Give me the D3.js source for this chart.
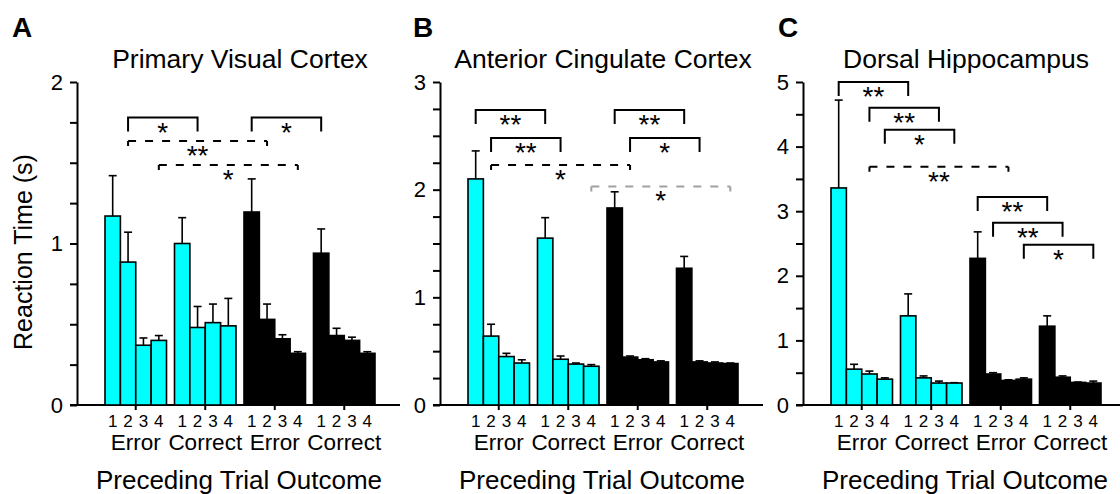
<!DOCTYPE html>
<html>
<head>
<meta charset="utf-8">
<script src="https://cdn.jsdelivr.net/npm/d3@7"></script>
<style>
  body { margin: 0; background: #fff; }
  svg { display: block; font-family: "Liberation Sans", Arial, Helvetica, sans-serif; }
</style>
</head>
<body>
<svg id="svg-canvas" width="1120" height="494"></svg>
<script>
// categories
const outcomes = ['Error', 'Correct', 'Error', 'Correct'];
const trials = [1, 2, 3, 4];
const panelTitles = ['Primary Visual Cortex', 'Anterior Cingulate Cortex', 'Dorsal Hippocampus'];
const panelLetters = ['A', 'B', 'C'];
const yMaxes = [2, 3, 5];
const yMinorSteps = [0.25, 0.25, 0.5];

// mean reaction time (s), one row per outcome group, trials 1-4
const v1Mean = [[1.17, 0.885, 0.37, 0.40], [1.00, 0.48, 0.51, 0.49], [1.195, 0.53, 0.41, 0.32], [0.94, 0.43, 0.40, 0.32]];
const v1Sem  = [[0.25, 0.185, 0.045, 0.03], [0.16, 0.13, 0.115, 0.17], [0.205, 0.095, 0.025, 0.01], [0.15, 0.045, 0.02, 0.01]];
const accMean = [[2.10, 0.64, 0.45, 0.39], [1.55, 0.425, 0.38, 0.36], [1.83, 0.445, 0.42, 0.40], [1.27, 0.40, 0.39, 0.385]];
const accSem  = [[0.26, 0.11, 0.03, 0.03], [0.19, 0.03, 0.01, 0.015], [0.15, 0.01, 0.01, 0.01], [0.11, 0.01, 0.01, 0.005]];
const hpcMean = [[3.36, 0.555, 0.48, 0.40], [1.38, 0.42, 0.34, 0.34], [2.27, 0.48, 0.38, 0.40], [1.22, 0.43, 0.35, 0.34]];
const hpcSem  = [[1.36, 0.075, 0.045, 0.02], [0.34, 0.03, 0.03, 0.005], [0.41, 0.02, 0.01, 0.02], [0.16, 0.02, 0.005, 0.03]];

// significance: [fromGroup, fromTrial, toGroup, toTrial, level (s), label, kind]
const v1Sig = [[0, 1, 1, 1, 1.78, '*', 'solid'], [2, 0, 3, 0, 1.78, '*', 'solid'],
               [0, 1, 2, 1, 1.635, '**', 'dashed'], [0, 3, 2, 3, 1.486, '*', 'dashed']];
const accSig = [[0, 0, 1, 0, 2.74, '**', 'solid'], [0, 1, 1, 1, 2.48, '**', 'solid'],
                [2, 0, 3, 0, 2.74, '**', 'solid'], [2, 1, 3, 1, 2.48, '*', 'solid'],
                [0, 1, 2, 1, 2.23, '*', 'dashed'], [1, 3, 3, 3, 2.03, '*', 'gray']];
const hpcSig = [[0, 0, 1, 0, 5.0, '**', 'solid'], [0, 2, 1, 2, 4.6, '**', 'solid'],
                [0, 3, 1, 3, 4.26, '*', 'solid'], [0, 2, 2, 2, 3.69, '**', 'dashed'],
                [2, 0, 3, 0, 3.22, '**', 'solid'], [2, 1, 3, 1, 2.82, '**', 'solid'],
                [2, 3, 3, 3, 2.48, '*', 'solid']];

const means = [v1Mean, accMean, hpcMean];
const sems = [v1Sem, accSem, hpcSem];
const sigs = [v1Sig, accSig, hpcSig];

// layout
const axisX = [77, 440, 803];
const letterX = [12, 413, 778];
const zeroY = 405, topY = 82;
const xLen = 323;

const svg = d3.select('#svg-canvas');

panelTitles.forEach((title, p) => {
  const g = svg.append('g').attr('transform', `translate(${axisX[p]},0)`);

  const y = d3.scaleLinear().domain([0, yMaxes[p]]).range([zeroY, topY]);
  const xg = d3.scaleBand().domain(d3.range(outcomes.length)).range([28, 298]).paddingInner(0.115);
  const xt = d3.scaleBand().domain(trials).range([0, xg.bandwidth()]);
  const cx = (gi, ti) => xg(gi) + xt(trials[ti]) + xt.bandwidth() / 2;

  // panel letter + title
  svg.append('text')
    .attr('x', letterX[p]).attr('y', 37)
    .attr('font-size', 28).attr('font-weight', 'bold')
    .text(panelLetters[p]);
  g.append('text')
    .attr('x', 163).attr('y', 68)
    .attr('text-anchor', 'middle').attr('font-size', 26.5)
    .text(title);

  // y axis
  const yTicks = d3.range(0, yMaxes[p] + 1e-9, yMinorSteps[p]);
  const yAxis = g.append('g')
    .call(d3.axisLeft(y).tickValues(yTicks).tickSize(7).tickSizeOuter(0).tickPadding(7)
      .tickFormat(d => Number.isInteger(d) ? d : ''));
  yAxis.selectAll('text').attr('font-size', 22).attr('font-family', null).attr('fill', '#000');
  yAxis.selectAll('line').attr('stroke', '#000').attr('stroke-width', 2);
  yAxis.select('.domain').attr('stroke', '#000').attr('stroke-width', 2);

  // x axis
  g.append('line')
    .attr('x1', -7).attr('x2', xLen)
    .attr('y1', zeroY).attr('y2', zeroY)
    .attr('stroke', '#000').attr('stroke-width', 2);
  const xAxis = g.append('g')
    .attr('transform', `translate(0,${zeroY})`)
    .call(d3.axisBottom(xg).tickSize(5).tickPadding(24).tickFormat(i => outcomes[i]));
  xAxis.select('.domain').remove();
  xAxis.selectAll('line').attr('stroke', '#000').attr('stroke-width', 2);
  xAxis.selectAll('text').attr('font-size', 22.5).attr('font-family', null).attr('fill', '#000');

  // trial numbers
  outcomes.forEach((o, gi) => {
    g.selectAll(null)
      .data(trials)
      .enter()
      .append('text')
      .attr('x', (d, ti) => cx(gi, ti))
      .attr('y', 427)
      .attr('text-anchor', 'middle')
      .attr('font-size', 17)
      .text(d => d);
  });

  g.append('text')
    .attr('x', 162).attr('y', 489)
    .attr('text-anchor', 'middle').attr('font-size', 26)
    .text('Preceding Trial Outcome');

  // bars + error bars
  means[p].forEach((row, gi) => {
    const fill = gi < 2 ? '#00ffff' : '#000';
    const cells = row.map((m, ti) => ({ m, s: sems[p][gi][ti], ti }));
    g.selectAll(null)
      .data(cells)
      .enter()
      .append('line')
      .attr('x1', d => cx(gi, d.ti)).attr('x2', d => cx(gi, d.ti))
      .attr('y1', d => y(d.m)).attr('y2', d => y(d.m + d.s))
      .attr('stroke', '#000').attr('stroke-width', 1.6);
    g.selectAll(null)
      .data(cells)
      .enter()
      .append('line')
      .attr('x1', d => cx(gi, d.ti) - 4).attr('x2', d => cx(gi, d.ti) + 4)
      .attr('y1', d => y(d.m + d.s)).attr('y2', d => y(d.m + d.s))
      .attr('stroke', '#000').attr('stroke-width', 1.6);
    g.selectAll(null)
      .data(cells)
      .enter()
      .append('rect')
      .attr('x', d => xg(gi) + xt(trials[d.ti]))
      .attr('y', d => y(d.m))
      .attr('width', xt.bandwidth())
      .attr('height', d => zeroY - y(d.m))
      .attr('fill', fill)
      .attr('stroke', '#000')
      .attr('stroke-width', 1.6);
  });

  // significance brackets
  sigs[p].forEach(([g1, t1, g2, t2, lvl, lab, kind]) => {
    const x1 = cx(g1, t1), x2 = cx(g2, t2), yy = y(lvl);
    const col = kind === 'gray' ? '#a0a0a0' : '#000';
    if (kind === 'solid') {
      g.append('path')
        .attr('d', `M${x1},${yy + 14}V${yy}H${x2}V${yy + 14}`)
        .attr('fill', 'none').attr('stroke', col).attr('stroke-width', 2);
    } else {
      g.append('line')
        .attr('x1', x1).attr('x2', x2).attr('y1', yy).attr('y2', yy)
        .attr('stroke', col).attr('stroke-width', 2)
        .attr('stroke-dasharray', '8,9');
      g.append('path')
        .attr('d', `M${x1},${yy + 5}V${yy}M${x2},${yy}V${yy + 5}`)
        .attr('fill', 'none').attr('stroke', col).attr('stroke-width', 2);
    }
    g.append('text')
      .attr('x', (x1 + x2) / 2).attr('y', yy + 24)
      .attr('text-anchor', 'middle').attr('font-size', 28)
      .text(lab);
  });
});

// shared y label
svg.append('text')
  .attr('transform', 'translate(32,252) rotate(-90)')
  .attr('text-anchor', 'middle').attr('font-size', 25)
  .text('Reaction Time (s)');
</script>
</body>
</html>
